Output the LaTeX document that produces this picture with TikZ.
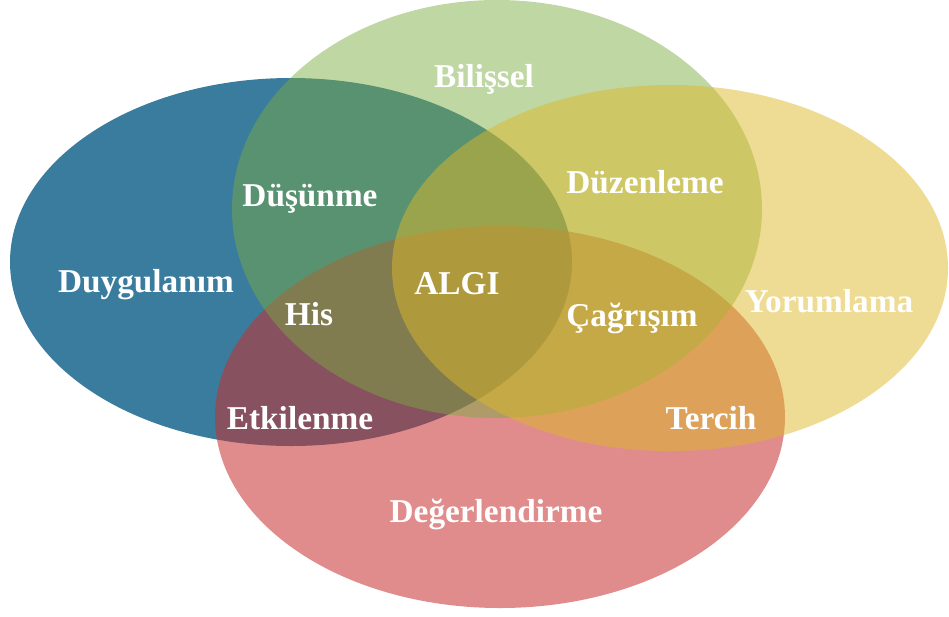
\documentclass[tikz,border=0pt]{standalone}
\usepackage{fontspec}
\setmainfont{Liberation Serif}
\usetikzlibrary{shapes.geometric}
\definecolor{cblue}{RGB}{58,124,158}
\definecolor{cred}{RGB}{199,46,46}
\definecolor{cgreen}{RGB}{122,172,63}
\definecolor{cyellow}{RGB}{221,183,41}
\tikzset{
  setshape/.style={ellipse, inner sep=0pt, draw=none},
  lbl/.style={anchor=base, text=white, inner sep=0pt, font=\fontsize{33.3}{37}\selectfont\bfseries}
}
\begin{document}
\begin{tikzpicture}[x=1pt,y=-1pt]
\useasboundingbox (0,0) rectangle (949,616);
\node[setshape, fill=cblue, minimum width=562pt, minimum height=368pt] (duyg) at (291,262) {};
\node[setshape, fill=cred, fill opacity=0.55, minimum width=570pt, minimum height=382pt] (deger) at (500,417) {};
\node[setshape, fill=cgreen, fill opacity=0.48, minimum width=530pt, minimum height=418pt] (bilis) at (497,209) {};
\node[setshape, fill=cyellow, fill opacity=0.5, minimum width=556pt, minimum height=366pt] (yorum) at (670,268) {};
\node[lbl] (t1) at (484,87) {Bilişsel};
\node[lbl] (t2) at (310,206) {Düşünme};
\node[lbl] (t3) at (146,292) {Duygulanım};
\node[lbl] (t4) at (645,193) {Düzenleme};
\node[lbl] (t5) at (457,294) {ALGI};
\node[lbl] (t6) at (309,325) {His};
\node[lbl] (t7) at (632,326) {Çağrışım};
\node[lbl] (t8) at (829,312) {Yorumlama};
\node[lbl] (t9) at (300,429) {Etkilenme};
\node[lbl] (t10) at (711,429) {Tercih};
\node[lbl] (t11) at (496,522) {Değerlendirme};
\end{tikzpicture}
\end{document}
